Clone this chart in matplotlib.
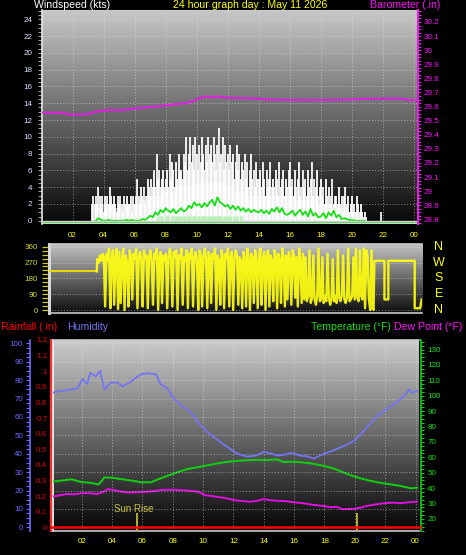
import numpy as np
import matplotlib

matplotlib.use("Agg")
import matplotlib.pyplot as plt
from matplotlib.ticker import MultipleLocator, FuncFormatter

plt.rcParams["font.family"] = ["Liberation Sans", "DejaVu Sans"]

# ---------------- data ----------------
hour_ticks = list(range(2, 25, 2))
hour_labels = ["02", "04", "06", "08", "10", "12", "14", "16", "18", "20", "22", "00"]

# gusts, one value every 5 min from 03:15
gust_start = 3.25
gust_kts = [
    2, 3, 2, 3, 2, 4, 3, 2, 3,
    1, 3, 2, 3, 2, 4, 3, 2, 3, 2, 1, 3,
    2, 3, 2, 1, 3, 2, 3, 2, 2, 3, 1, 3,
    2, 3, 5, 3, 2, 4, 3, 4, 2, 3, 5, 4,
    3, 5, 4, 6, 4, 8, 5, 6, 4, 5, 6, 4,
    5, 6, 4, 8, 5, 7, 6, 4, 7, 5, 8, 6,
    6, 5, 8, 7, 10, 6, 8, 10, 7, 9, 6, 10,
    8, 6, 9, 7, 10, 8, 6, 9, 7, 10, 8, 9,
    7, 10, 8, 6, 9, 11, 7, 8, 10, 6, 9, 7,
    8, 6, 9, 7, 8, 5, 7, 9, 6, 8, 5, 7,
    6, 8, 5, 7, 4, 6, 8, 5, 6, 4, 7, 5,
    5, 6, 4, 7, 5, 3, 6, 4, 5, 7, 4, 5,
    4, 6, 5, 3, 7, 4, 5, 6, 3, 5, 4, 6,
    7, 4, 5, 3, 6, 4, 5, 7, 3, 4, 6, 4,
    5, 3, 6, 4, 5, 7, 3, 5, 4, 6, 3, 4,
    5, 3, 4, 2, 5, 3, 4, 2, 3, 5, 2, 3,
    3, 2, 4, 2, 3, 1, 3, 4, 2, 3, 1, 2,
    3, 1, 2, 1, 3, 2, 1, 2, 1, 0.5, 1, 0.5,
]
gust_extra_hours = [21.87]
gust_extra_kts = [1.0]

# steady wind band, every 30 min from 03:30
wind_lo_start = 3.5
wind_lo_kts = [1.5, 2, 2, 1.5, 2, 2, 2.5, 3, 3, 3.5, 3.5, 4, 4, 4.5, 4.5, 4.5, 4.5, 4,
               3.5, 3.5, 3, 3, 3, 3, 3, 3, 2.5, 2.5, 2.5, 2, 2, 1.5, 1.5, 1, 0.5, 0]

# average wind (green), every 10 min from 03:30
avg_start = 3.5
avg_kts = [
    0, 0.3, 0.1,
    0, 0, 0.1, 0, 0, 0,
    0, 0, 0, 0.1, 0, 0.1,
    0, 0, 0, 0.2, 0.1, 0.3,
    0.6, 0.4, 1.0, 0.7, 1.3, 1.0,
    1.5, 1.2, 1.0, 1.4, 0.9, 1.2,
    1.5, 1.1, 1.3, 1.8, 1.5, 2.2,
    1.8, 2.0, 1.6, 2.1, 1.7, 2.2,
    2.5, 1.8, 2.8, 2.2, 2.0, 1.7,
    1.9, 1.4, 1.8, 1.3, 1.7, 1.2,
    1.5, 1.1, 1.4, 1.0, 1.3, 1.1,
    1.0, 1.3, 0.9, 1.2, 0.8, 1.4,
    1.1, 1.6, 1.0, 1.5, 0.8, 0.7,
    0.9, 1.2, 0.6, 1.0, 1.3, 0.7,
    1.1, 0.5, 1.4, 0.6, 0.9, 0.4,
    0.5, 0.9, 0.3, 1.0, 0.6, 1.2,
    0.4, 0.7, 0.2, 0.3, 0.2, 0.1,
    0.1, 0, 0, 0, 0, 0,
]

# lull bars (light green), every 5 min from 07:30
lull_start = 7.5
lull_kts = [
    0.6, 0, 0.6, 0.6, 0, 0, 0.6, 0, 0.6, 0, 0, 0.6,
    0, 0.6, 0, 0.6, 0.6, 0, 0.6, 0, 0.6, 0.6, 0, 0.6,
    0.6, 0.6, 0, 0.6, 0.6, 0.6, 0, 0.6, 0.6, 0, 0.6, 0.6,
    0.6, 0, 0.6, 0.6, 0.6, 0, 0.6, 0.6, 0.6, 0, 0.6, 0.6,
    0.6, 0.6, 0, 0.6, 0, 0.6, 0.6, 0, 0.6, 0, 0, 0.6,
    0, 0.6, 0, 0, 0.6, 0,
]

baro_hours = [0, 1.4, 1.8, 2.6, 3.1, 3.6, 4.4, 5.2, 5.9, 6.8, 7.6, 8.5, 9.3, 9.8, 10.2,
              10.6, 11.0, 11.4, 12.0, 12.8, 13.6, 14.5, 16.0, 17.5, 18.8, 19.8, 20.7,
              21.2, 22.0, 22.6, 23.1, 23.6, 24.2]
baro_in = [29.557, 29.556, 29.543, 29.543, 29.550, 29.566, 29.576, 29.574, 29.586, 29.595,
           29.602, 29.615, 29.624, 29.640, 29.660, 29.671, 29.668, 29.671, 29.663, 29.660,
           29.658, 29.650, 29.647, 29.646, 29.647, 29.650, 29.654, 29.656, 29.655, 29.657,
           29.656, 29.648, 29.644]

# wind direction
dir_head_hours = [0.0, 3.56]
dir_head_deg = [220, 220]
dir_start = 3.6
dir_deg = [
    290, 270, 310, 280, 320,
    300, 20, 320, 280, 350, 10, 290, 340, 30, 300, 350, 5,
    330, 40, 280, 350, 0, 310, 270, 20, 340, 300, 60, 320,
    290, 350, 10, 300, 330, 280, 20, 340, 290, 310, 10, 300,
    340, 280, 30, 320, 290, 350, 0, 300, 330, 40, 310, 280,
    320, 10, 300, 350, 290, 20, 330, 300, 340, 0, 310, 290,
    350, 30, 300, 280, 340, 10, 320, 290, 350, 20, 300, 330,
    280, 0, 340, 310, 20, 300, 350, 290, 10, 330, 300, 40,
    320, 290, 350, 0, 310, 280, 30, 340, 300, 10, 320, 290,
    350, 20, 300, 330, 0, 290, 340, 310, 30, 300, 280, 10,
    330, 300, 20, 350, 290, 0, 320, 300, 40, 340, 280, 10,
    310, 350, 30, 290, 330, 0, 300, 340, 20, 310, 280, 50,
    340, 300, 10, 320, 290, 40, 350, 300, 20, 310, 60, 330,
    290, 30, 340, 310, 70, 300, 20, 350, 280, 40, 320, 60,
    300, 50, 80, 340, 40, 70, 310, 60, 30, 80, 350, 50,
    60, 300, 40, 80, 50, 320, 70, 30, 60, 290, 50, 80,
    40, 340, 70, 50, 80, 310, 60, 40, 70, 350, 50, 60,
    80, 300, 60, 350, 70, 50, 340, 80, 60, 350, 10, 340,
    300, 60, 0, 340, 10,
]
dir_tail_hours = [21.4, 21.45, 22.1, 22.1, 22.35, 22.35, 24.05, 24.05, 24.4, 24.5]
dir_tail_deg = [0, 280, 280, 60, 60, 280, 280, 10, 10, 60]
compass = ["N", "W", "S", "E", "N"]
compass_deg = [360, 270, 180, 90, 0]

hum_hours = [0, 0.5, 1.0, 1.72, 2.05, 2.37, 2.55, 2.92, 3.2, 3.5, 3.9, 4.35, 4.7, 5.2, 5.9,
             6.33, 6.9, 7.2, 7.65, 8.1, 8.6, 9.2, 9.8, 10.3, 10.7, 11.2, 11.6, 12.25, 12.9,
             13.5, 14.0, 14.5, 14.9, 15.4, 15.8, 16.4, 16.9, 17.3, 17.95, 18.6, 19.5, 19.95,
             20.6, 21.0, 21.5, 22.1, 22.7, 23.2, 23.4, 23.6, 23.8, 24.1]
hum_pct = [73, 74, 74.5, 75.5, 80.5, 78, 84, 82, 85, 74.8, 78.7, 78.7, 76.6, 79, 83.2,
           83.7, 83.2, 77.8, 75.5, 69.7, 66, 62.5, 55.5, 51.7, 49, 46, 43.6, 40, 38.4,
           39, 41, 40, 39, 39.5, 40.5, 39, 38.5, 37.3, 40, 41.8, 45, 47,
           52.4, 56.5, 60.7, 64.2, 67.6, 71, 73, 75, 73, 74.3]

temp_hours = [0.0, 0.7, 1.35, 1.9, 2.6, 3.1, 3.3, 3.5, 3.9, 4.4, 5.0, 5.5, 5.9, 6.55, 7.2,
              7.6, 8.1, 8.5, 8.96, 9.4, 9.8, 10.4, 10.9, 11.5, 12.0, 12.6, 13.1, 13.6, 14.2,
              14.6, 14.9, 15.3, 15.8, 16.4, 17.0, 17.5, 18.0, 18.6, 19.1, 19.7, 20.3, 20.8,
              21.3, 21.9, 22.5, 23.0, 23.4, 23.7, 24.1]
temp_f = [44.1, 45.0, 45.7, 44.1, 43.4, 42.4, 44.5, 47.0, 46.8, 46.2, 45.3, 44.6, 43.8, 43.8,
          46.4, 47.8, 49.6, 51.0, 52.4, 53.2, 53.9, 55.0, 56.0, 57.0, 57.5, 58.0, 58.2, 58.4,
          58.2, 58.6, 58.6, 56.9, 57.2, 56.9, 56.2, 55.4, 54.3, 52.8, 50.8, 48.5, 46.6, 45.3,
          44.2, 43.1, 42.3, 41.4, 40.6, 39.9, 40.3]

dew_hours = [0.0, 0.5, 1.0, 1.5, 1.9, 2.5, 3.0, 3.4, 3.7, 4.1, 4.6, 5.0, 5.45, 5.9, 6.3, 6.8,
             7.2, 7.7, 8.3, 8.8, 9.2, 9.7, 10.1, 10.5, 10.9, 11.5, 12.0, 12.6, 13.1, 13.6,
             14.0, 14.4, 14.9, 15.5, 16.0, 16.6, 17.3, 17.9, 18.4, 18.8, 19.2, 19.6, 19.9,
             20.4, 20.8, 21.3, 21.9, 22.5, 23.0, 23.5, 24.1]
dew_f = [34.4, 35.3, 36.2, 36.0, 36.6, 36.8, 36.2, 37.5, 39.4, 38.8, 37.7, 37.2, 37.3, 37.5,
         37.7, 38.2, 38.8, 39.0, 38.8, 38.6, 38.3, 37.6, 35.5, 35.0, 34.4, 33.5, 32.3, 31.6,
         31.2, 31.8, 32.9, 32.2, 31.8, 31.5, 30.8, 30.2, 29.1, 28.5, 27.6, 27.9, 26.3, 26.6,
         26.5, 27.4, 28.5, 29.3, 30.2, 30.6, 30.2, 30.8, 31.2]

rain_hours = [0.0, 24.3]
rain_in = [0.0, 0.0]

sunrise_h = 5.63
sunset_h = 20.12

# ---------------- figure ----------------
W, H = 466, 555
fig = plt.figure(figsize=(W / 100, H / 100), dpi=100)
fig.patch.set_facecolor("black")

TICK_FS = 5.8
HEAD_FS = 7.6


def px_box(left, top, right, bottom):
    return [left / W, 1 - bottom / H, (right - left) / W, (bottom - top) / H]


def shade(ax, top, bottom):
    grad = np.linspace(top, bottom, 256).reshape(-1, 1)
    ax.imshow(grad, cmap="gray", vmin=0, vmax=1, aspect="auto", extent=(0, 1, 0, 1),
              transform=ax.transAxes, zorder=0, interpolation="bilinear")


def trim_fmt(v, _pos):
    return f"{v:.1f}".rstrip("0").rstrip(".")


grid_kw = dict(color="#e6e6e6", linestyle=(0, (1, 2)), linewidth=0.7, alpha=0.55)

# --- Panel 1: wind speed + barometer
ax1 = fig.add_axes(px_box(42, 10, 418, 224))
shade(ax1, 0.78, 0.03)
t_lo = wind_lo_start + np.arange(len(wind_lo_kts)) * 0.5
t_g = gust_start + np.arange(len(gust_kts)) / 12
t_avg = avg_start + np.arange(len(avg_kts)) / 6
t_lull = lull_start + np.arange(len(lull_kts)) / 12

ax1.fill_between(t_g, 0, gust_kts, step="mid", color="white", alpha=0.3, lw=0, zorder=2)
ax1.fill_between(t_lo, 0, wind_lo_kts, step="mid", color="#e4e4e4", alpha=0.55, lw=0, zorder=2)
ax1.vlines(np.r_[t_g, gust_extra_hours], 0, np.r_[gust_kts, gust_extra_kts],
           color="white", lw=1.3, alpha=0.95, zorder=3)
ax1.vlines(t_lull, 0, lull_kts, color="#b8f0b8", lw=1.8, zorder=4)
ax1.plot(t_avg, avg_kts, color="#18e018", lw=1.3, zorder=5)
ax1.axhline(0, color="#d0d0d0", lw=1.0, zorder=6)
ax1.axhline(-0.3, color="#a8eca8", lw=1.8, zorder=6)

ax1.set_xlim(0.03, 24.26)
ax1.set_ylim(-0.39, 25.11)
ax1.set_yticks(range(0, 25, 2))
ax1.yaxis.set_minor_locator(MultipleLocator(0.5))
ax1.set_xticks(hour_ticks)
ax1.set_xticklabels(hour_labels)
ax1.tick_params(axis="y", which="both", direction="out", length=3, width=0.8,
                color="#9a9a9a", labelcolor="#dce6ff", labelsize=TICK_FS, pad=4)
ax1.tick_params(axis="x", length=0, labelcolor="#ffff00", labelsize=TICK_FS, pad=6)
ax1.grid(True, **grid_kw)
for side in ["top", "bottom"]:
    ax1.spines[side].set_color("#c8c8c8")
ax1.spines["bottom"].set_visible(False)
ax1.spines["left"].set_color("#e8e8e8")
ax1.spines["left"].set_linewidth(1.2)

ax1b = ax1.twinx()
ax1b.plot(baro_hours, baro_in, color="#e020e0", lw=1.5, zorder=5)
ax1b.set_ylim(28.767, 30.285)
ax1b.set_yticks(np.arange(28.8, 30.21, 0.1))
ax1b.yaxis.set_major_formatter(FuncFormatter(trim_fmt))
ax1b.yaxis.set_minor_locator(MultipleLocator(0.025))
ax1b.tick_params(axis="y", which="both", direction="out", length=2.5, width=0.8,
                 color="#e020e0", labelcolor="#ff10ff", labelsize=TICK_FS, pad=1.5)
for side in ["top", "bottom", "left"]:
    ax1b.spines[side].set_visible(False)
ax1b.spines["right"].set_color("#e020e0")
ax1b.spines["right"].set_linestyle((0, (1, 1)))
ax1b.spines["right"].set_linewidth(1.5)

fig.text(72.5 / W, 1 - 5 / H, "Windspeed (kts)", color="white", ha="center", va="center", fontsize=HEAD_FS)
fig.text(250 / W, 1 - 5 / H, "24 hour graph day : May 11 2026", color="#ffff00",
         ha="center", va="center", fontsize=HEAD_FS)
fig.text(405.5 / W, 1 - 5 / H, "Barometer (.in)", color="#ff10ff", ha="center", va="center", fontsize=HEAD_FS)

# --- Panel 2: wind direction
ax2 = fig.add_axes(px_box(48.5, 244, 422, 313))
shade(ax2, 0.76, 0.05)
t_dir = dir_start + np.arange(len(dir_deg)) / 12
ax2.plot(dir_head_hours, dir_head_deg, color="#e8d800", lw=1.5, zorder=3)
ax2.plot(np.r_[dir_head_hours[-1], t_dir, dir_tail_hours],
         np.r_[dir_head_deg[-1], dir_deg, dir_tail_deg],
         color="#ffff10", lw=1.7, alpha=0.92, zorder=3)
ax2.set_xlim(0.45, 24.52)
ax2.set_ylim(-17, 375.4)
ax2.set_yticks([0, 90, 180, 270, 360])
ax2.yaxis.set_minor_locator(MultipleLocator(22.5))
ax2.set_xticks(hour_ticks)
ax2.tick_params(axis="x", length=0, labelbottom=False)
ax2.tick_params(axis="y", which="both", direction="out", length=4.9, width=0.9,
                color="#c8c820", labelcolor="#d8d830", labelsize=TICK_FS, pad=2.7)
ax2.grid(True, axis="y", **grid_kw)
ax2.spines["left"].set_color("#d8d8d8")
ax2.spines["left"].set_linewidth(2.2)
for side in ["top", "bottom"]:
    ax2.spines[side].set_color("#c8c8c8")
    ax2.spines[side].set_linewidth(1.2)
ax2.spines["right"].set_visible(False)
for letter, deg in zip(compass, compass_deg):
    ax2.text(1.0455, deg, letter, transform=ax2.get_yaxis_transform(), color="#ffff00",
             ha="center", va="center", fontsize=9)

# --- Panel 3: temperature / dew point / humidity / rain
ax3 = fig.add_axes(px_box(53, 340, 419, 530.5))
shade(ax3, 0.8, 0.02)
hum = ax3.twinx()
rain = ax3.twinx()

ax3.plot(temp_hours, temp_f, color="#10d010", lw=1.4, zorder=3)
ax3.plot(dew_hours, dew_f, color="#e010e0", lw=1.4, zorder=3)
ax3.set_xlim(0.105, 24.23)
ax3.set_ylim(12.5, 136.2)
ax3.set_yticks(range(20, 131, 10))
ax3.yaxis.set_minor_locator(MultipleLocator(2.5))
ax3.yaxis.tick_right()
ax3.set_xticks(hour_ticks)
ax3.set_xticklabels(hour_labels)
ax3.tick_params(axis="y", which="both", direction="out", length=2.2, width=0.8,
                color="#10d010", labelcolor="#10e010", labelsize=TICK_FS, pad=2.2)
ax3.tick_params(axis="x", length=0, labelcolor="#ffff00", labelsize=TICK_FS, pad=5.5)
ax3.grid(True, axis="x", **grid_kw)
ax3.spines["right"].set_color("#10d010")
ax3.spines["right"].set_position(("outward", 1.5))
ax3.spines["right"].set_linewidth(1.2)
ax3.spines["left"].set_color("#f0f0f0")
ax3.spines["left"].set_linewidth(1.3)
for side in ["top", "bottom"]:
    ax3.spines[side].set_color("#c8c8c8")
    ax3.spines[side].set_linewidth(1.2)
ax3.axvline(sunrise_h, ymin=0, ymax=0.087, color="#b8b030", lw=1.4, zorder=4)
ax3.axvline(sunset_h, ymin=0, ymax=0.087, color="#b8b030", lw=1.4, zorder=4)
ax3.text(sunrise_h - 0.18, 0.112, "Sun Rise", transform=ax3.get_xaxis_transform(),
         color="#c8c040", ha="center", va="center", fontsize=7)

hum.plot(hum_hours, hum_pct, color="#7474f4", lw=1.3, zorder=3)
hum.set_ylim(-1.74, 101.8)
hum.set_yticks(range(0, 101, 10))
hum.yaxis.set_minor_locator(MultipleLocator(2.5))
hum.yaxis.tick_left()
hum.grid(True, axis="y", **grid_kw)
hum.tick_params(axis="y", which="both", direction="out", length=3, width=0.8,
                color="#6a6aff", labelcolor="#6a6aff", labelsize=TICK_FS, pad=2)
for side in ["top", "bottom", "right"]:
    hum.spines[side].set_visible(False)
hum.spines["left"].set_visible(True)
hum.spines["left"].set_position(("outward", 16.5))
hum.spines["left"].set_color("#6a6aff")
hum.spines["left"].set_linewidth(1.2)

rain.plot(rain_hours, rain_in, color="#ff0000", lw=1.8, zorder=4, clip_on=False)
rain.set_ylim(-0.0204, 1.196)
rain.set_yticks(np.arange(0, 1.21, 0.1))
rain.yaxis.set_major_formatter(FuncFormatter(trim_fmt))
rain.yaxis.set_minor_locator(MultipleLocator(0.05))
rain.yaxis.tick_left()
rain.tick_params(axis="y", which="both", direction="out", length=1.5, width=0.8,
                 color="#e00000", labelcolor="#e00000", labelsize=TICK_FS, pad=1.5)
for side in ["top", "bottom", "right"]:
    rain.spines[side].set_visible(False)
rain.spines["left"].set_visible(True)
rain.spines["left"].set_position(("outward", 1.1))
rain.spines["left"].set_color("#ff3030")
rain.spines["left"].set_linestyle((0, (1, 1)))
rain.spines["left"].set_linewidth(1.4)
rain.set_xlim(ax3.get_xlim())

fig.text(1 / W, 1 - 326.5 / H, "Rainfall (.in)", color="#ff0000", ha="left", va="center", fontsize=HEAD_FS)
fig.text(67 / W, 1 - 326.5 / H, "Humidity", color="#7474f4", ha="left", va="center", fontsize=HEAD_FS)
fig.text(391 / W, 1 - 326.5 / H, "Temperature (°F)", color="#10e010", ha="right", va="center", fontsize=HEAD_FS)
fig.text(462 / W, 1 - 326.5 / H, "Dew Point (°F)", color="#ff10ff", ha="right", va="center", fontsize=HEAD_FS)

fig.savefig("out.png", dpi=100, facecolor="black")
plt.close(fig)
